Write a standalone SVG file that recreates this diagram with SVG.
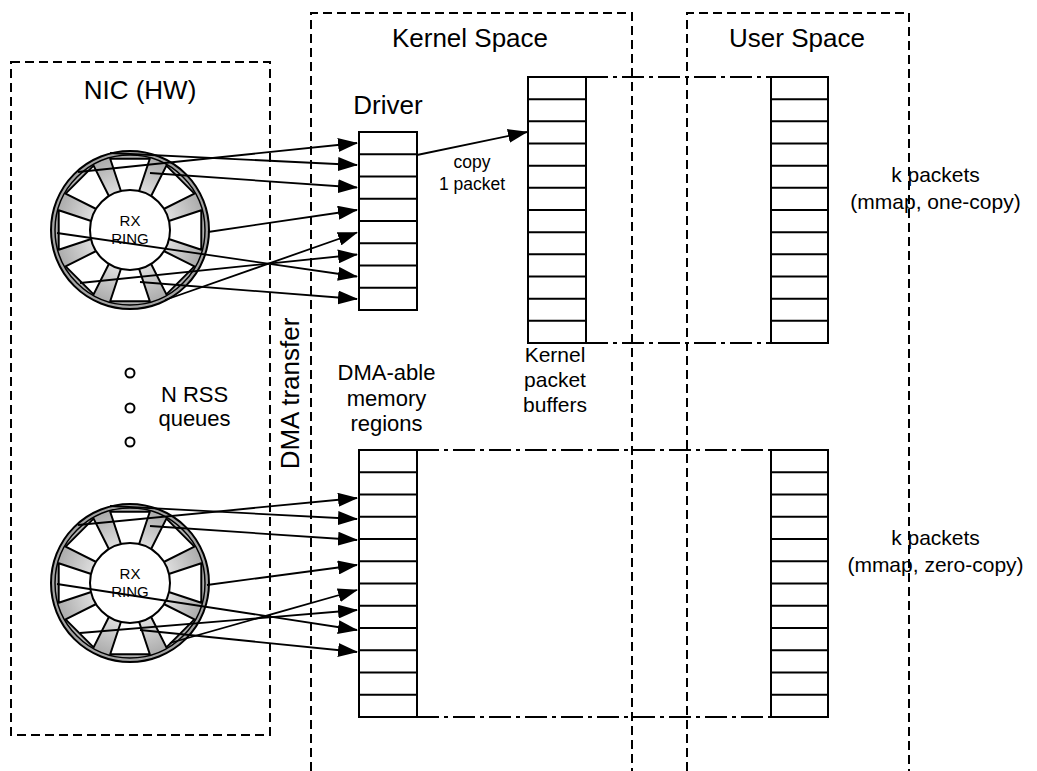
<svg xmlns="http://www.w3.org/2000/svg" xmlns:xlink="http://www.w3.org/1999/xlink" width="1037" height="771" viewBox="0 0 1037 771">
<defs>
<style>
.dash{fill:none;stroke:#000;stroke-width:2;stroke-dasharray:9 5}
.dd{fill:none;stroke:#000;stroke-width:2;stroke-dasharray:22 5 4 5}
.box{fill:#fff;stroke:#000;stroke-width:2}
.cell{fill:none;stroke:#000;stroke-width:2}
.arr{fill:none;stroke:#000;stroke-width:1.8;marker-end:url(#ah)}
.dot{fill:#fff;stroke:#000;stroke-width:2}
text{font-family:"Liberation Sans",Arial,Helvetica,sans-serif;fill:#000;text-anchor:middle}
.h{font-size:26px}
.m{font-size:22px}
.s{font-size:21px}
.r{font-size:15px}
.c{font-size:17.5px}
</style>
<radialGradient id="rg" cx="0.5" cy="0.5" r="0.5">
<stop offset="0.5" stop-color="#dedede"/>
<stop offset="0.95" stop-color="#acacac"/>
<stop offset="1" stop-color="#9a9a9a"/>
</radialGradient>
<marker id="ah" markerUnits="userSpaceOnUse" markerWidth="20" markerHeight="14" refX="19" refY="7" orient="auto"><path d="M0,0 L20,7 L0,14 z" fill="#000"/></marker>
<polygon id="win" points="35,-7.8 71.3,-19.8 71.3,19.8 35,7.8" fill="#fff" stroke="#000" stroke-width="2" stroke-linejoin="round"/>
<g id="ring">
<circle r="79" fill="url(#rg)" stroke="#000" stroke-width="2"/>
<circle r="75" fill="none" stroke="#000" stroke-width="1.5"/>
<use xlink:href="#win" href="#win"/>
<use xlink:href="#win" href="#win" transform="rotate(45)"/>
<use xlink:href="#win" href="#win" transform="rotate(90)"/>
<use xlink:href="#win" href="#win" transform="rotate(135)"/>
<use xlink:href="#win" href="#win" transform="rotate(180)"/>
<use xlink:href="#win" href="#win" transform="rotate(225)"/>
<use xlink:href="#win" href="#win" transform="rotate(270)"/>
<use xlink:href="#win" href="#win" transform="rotate(315)"/>
<circle r="40" fill="#fff" stroke="#000" stroke-width="2"/>
</g>
</defs>
<rect width="1037" height="771" fill="#fff"/>

<g id="nic">
<rect class="dash" x="11" y="62" width="259" height="673"/>
<text class="h" x="140" y="99">NIC (HW)</text>
</g>
<g id="kernel-space">
<path class="dash" d="M311,771V13H632V771"/>
<text class="h" x="470" y="47">Kernel Space</text>
</g>
<g id="user-space">
<path class="dash" d="M687,771V13H909V771"/>
<text class="h" x="797" y="47">User Space</text>
</g>
<g id="dma-transfer">
<text class="h" transform="translate(299,393.5) rotate(-90)">DMA transfer</text>
</g>

<g id="ring-top">
<use xlink:href="#ring" href="#ring" x="130" y="230"/>
<text class="r" x="130" y="226">RX</text>
<text class="r" x="130" y="244">RING</text>
</g>
<g id="ring-bottom">
<use xlink:href="#ring" href="#ring" x="130" y="583"/>
<text class="r" x="130" y="579">RX</text>
<text class="r" x="130" y="597">RING</text>
</g>
<g id="rss-queues">
<circle class="dot" cx="130" cy="373" r="4.5"/>
<circle class="dot" cx="130" cy="408" r="4.5"/>
<circle class="dot" cx="130" cy="442" r="4.5"/>
<text class="m" x="194.5" y="402">N RSS</text>
<text class="m" x="194.5" y="426">queues</text>
</g>

<g id="driver-buffer">
<text class="h" x="388" y="114">Driver</text>
<rect class="box" x="359" y="132" width="58" height="178"/>
<path class="cell" d="M359,154.25H417M359,176.5H417M359,198.75H417M359,221H417M359,243.25H417M359,265.5H417M359,287.75H417"/>
</g>
<g id="kernel-buffers">
<rect class="box" x="528" y="77" width="58" height="266"/>
<path class="cell" d="M528,99.17H586M528,121.33H586M528,143.5H586M528,165.67H586M528,187.83H586M528,210H586M528,232.17H586M528,254.33H586M528,276.5H586M528,298.67H586M528,320.83H586"/>
<text class="s" x="555" y="362">Kernel</text>
<text class="s" x="555" y="387">packet</text>
<text class="s" x="555" y="412">buffers</text>
</g>
<g id="user-buffer-top">
<rect class="box" x="771" y="77" width="57" height="266"/>
<path class="cell" d="M771,99.17H828M771,121.33H828M771,143.5H828M771,165.67H828M771,187.83H828M771,210H828M771,232.17H828M771,254.33H828M771,276.5H828M771,298.67H828M771,320.83H828"/>
<text class="s" x="935.5" y="182">k packets</text>
<text class="s" x="935.5" y="209">(mmap, one-copy)</text>
</g>
<g id="dma-regions">
<text class="m" x="386.5" y="380">DMA-able</text>
<text class="m" x="386.5" y="405.5">memory</text>
<text class="m" x="386.5" y="431">regions</text>
<rect class="box" x="359" y="450" width="58" height="267"/>
<path class="cell" d="M359,472.25H417M359,494.5H417M359,516.75H417M359,539H417M359,561.25H417M359,583.5H417M359,605.75H417M359,628H417M359,650.25H417M359,672.5H417M359,694.75H417"/>
</g>
<g id="user-buffer-bottom">
<rect class="box" x="771" y="450" width="57" height="267"/>
<path class="cell" d="M771,472.25H828M771,494.5H828M771,516.75H828M771,539H828M771,561.25H828M771,583.5H828M771,605.75H828M771,628H828M771,650.25H828M771,672.5H828M771,694.75H828"/>
<text class="s" x="935.5" y="545">k packets</text>
<text class="s" x="935.5" y="572">(mmap, zero-copy)</text>
</g>

<g id="connectors">
<path class="dd" d="M586,77H771"/>
<path class="dd" d="M586,343H771"/>
<path class="dd" d="M417,450H771"/>
<path class="dd" d="M417,717H771"/>
<path class="arr" d="M78,172L357,143"/>
<path class="arr" d="M110,153L357,165"/>
<path class="arr" d="M150,173L357,187.5"/>
<path class="arr" d="M208,232L357,210"/>
<path class="arr" d="M165,300L357,232.5"/>
<path class="arr" d="M80,283L357,254.5"/>
<path class="arr" d="M57,233L357,276.5"/>
<path class="arr" d="M140,282L357,299"/>
<path class="arr" d="M78,525L357,498"/>
<path class="arr" d="M110,506L357,519"/>
<path class="arr" d="M150,526L357,540"/>
<path class="arr" d="M207,585L357,565"/>
<path class="arr" d="M170,643L357,590"/>
<path class="arr" d="M80,633L357,610"/>
<path class="arr" d="M57,584L357,630"/>
<path class="arr" d="M140,630L357,652"/>
<path class="arr" d="M417,155L527,132"/>
<text class="c" x="472" y="168">copy</text>
<text class="c" x="472" y="190">1 packet</text>
</g>
</svg>
